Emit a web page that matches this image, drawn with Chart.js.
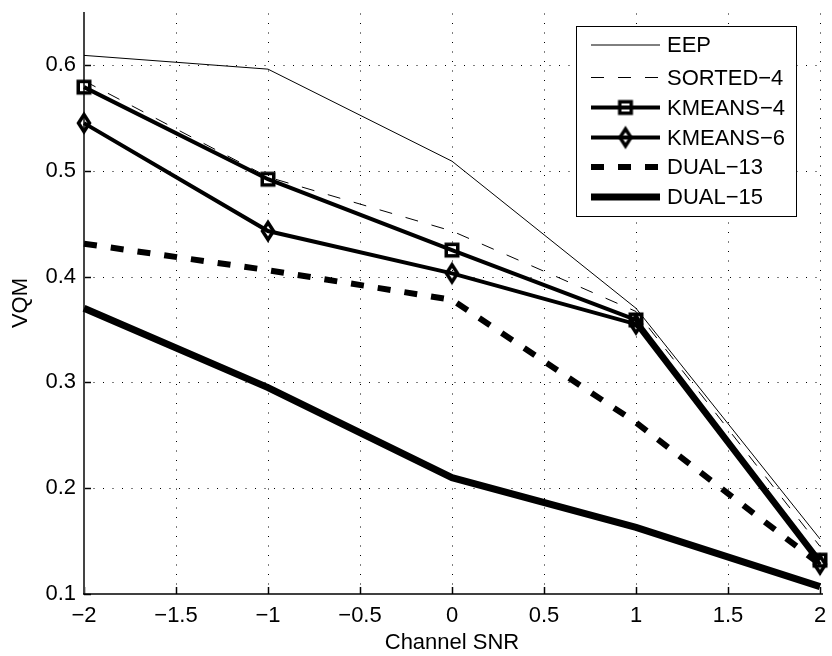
<!DOCTYPE html>
<html>
<head>
<meta charset="utf-8">
<script src="https://cdn.jsdelivr.net/npm/chart.js@4/dist/chart.umd.min.js"></script>
<style>
  html, body { margin: 0; padding: 0; background: #fff; }
  #wrap { width: 832px; height: 656px; }
</style>
</head>
<body>
<div id="wrap"><canvas id="c" width="832" height="656"></canvas></div>
<script>
// Channel SNR values (x) and VQM per scheme (y)
const snr      = [-2, -1, 0, 1, 2];
const eep      = [0.609, 0.596, 0.509, 0.370, 0.152];
const sorted4  = [0.585, 0.494, 0.443, 0.367, 0.145];
const kmeans4  = [0.579, 0.492, 0.425, 0.359, 0.132];
const kmeans6  = [0.545, 0.443, 0.403, 0.355, 0.128];
const dual13   = [0.431, 0.406, 0.378, 0.262, 0.128];
const dual15   = [0.370, 0.295, 0.210, 0.163, 0.107];
const seriesNames = ['EEP', 'SORTED\u22124', 'KMEANS\u22124', 'KMEANS\u22126', 'DUAL\u221213', 'DUAL\u221215'];
const xTickStep = 0.5;
const yTickStep = 0.1;

const FONT = '"Liberation Sans", Arial, Helvetica, sans-serif';

// open square marker
function squareMarker() {
  const c = document.createElement('canvas');
  c.width = 18; c.height = 18;
  const g = c.getContext('2d');
  g.lineWidth = 3.5;
  g.strokeStyle = '#000';
  g.lineJoin = 'miter';
  g.strokeRect(3.25, 3.25, 11.5, 11.5);
  return c;
}
// open diamond marker (taller than wide)
function diamondMarker() {
  const c = document.createElement('canvas');
  c.width = 20; c.height = 28;
  const g = c.getContext('2d');
  g.lineWidth = 3.5;
  g.strokeStyle = '#000';
  g.lineJoin = 'miter';
  g.beginPath();
  g.moveTo(10, 14 - 8.5);
  g.lineTo(10 + 5.5, 14);
  g.lineTo(10, 14 + 8.5);
  g.lineTo(10 - 5.5, 14);
  g.closePath();
  g.stroke();
  return c;
}
const sq = squareMarker();
const dm = diamondMarker();

function pts(ys) { return snr.map((x, i) => ({ x: x, y: ys[i] })); }

function ds(label, ys, width, dash, marker) {
  return {
    label: label,
    data: pts(ys),
    borderColor: '#000',
    backgroundColor: '#000',
    borderWidth: width,
    borderDash: dash,
    borderCapStyle: 'butt',
    borderJoinStyle: 'miter',
    tension: 0,
    fill: false,
    clip: false,
    pointRadius: marker ? 8 : 0,
    pointHoverRadius: marker ? 8 : 0,
    pointStyle: marker || 'circle',
  };
}

const datasets = [
  ds(seriesNames[0], eep, 1, [], null),
  ds(seriesNames[1], sorted4, 1, [13, 14], null),
  ds(seriesNames[2], kmeans4, 4, [], sq),
  ds(seriesNames[3], kmeans6, 4, [], dm),
  ds(seriesNames[4], dual13, 6, [13, 14], null),
  ds(seriesNames[5], dual15, 7, [], null),
];

// dotted grid, axis lines and inward tick marks
const axesPlugin = {
  id: 'matlabAxes',
  beforeDatasetsDraw(chart) {
    const { ctx, chartArea: a, scales: { x, y } } = chart;
    ctx.save();
    ctx.strokeStyle = '#000';
    ctx.lineWidth = 1;
    ctx.setLineDash([1, 8.5]);
    x.ticks.forEach(t => {
      if (t.value <= x.min + 1e-9) return;
      const px = Math.round(x.getPixelForValue(t.value)) + 0.5;
      ctx.beginPath(); ctx.moveTo(px, a.bottom); ctx.lineTo(px, a.top - 6); ctx.stroke();
    });
    y.ticks.forEach(t => {
      if (t.value <= y.min + 1e-9) return;
      const py = Math.round(y.getPixelForValue(t.value)) + 0.5;
      ctx.beginPath(); ctx.moveTo(a.left, py); ctx.lineTo(a.right + 3, py); ctx.stroke();
    });
    ctx.setLineDash([]);
    // inward ticks
    ctx.lineWidth = 1.5;
    x.ticks.forEach(t => {
      const px = Math.round(x.getPixelForValue(t.value)) + 0.5;
      ctx.beginPath(); ctx.moveTo(px, a.bottom); ctx.lineTo(px, a.bottom - 7); ctx.stroke();
    });
    y.ticks.forEach(t => {
      const py = Math.round(y.getPixelForValue(t.value)) + 0.5;
      ctx.beginPath(); ctx.moveTo(a.left, py); ctx.lineTo(a.left + 7, py); ctx.stroke();
    });
    // axis lines
    ctx.strokeStyle = '#444';
    ctx.lineWidth = 2;
    ctx.beginPath(); ctx.moveTo(a.left, a.top); ctx.lineTo(a.left, a.bottom); ctx.stroke();
    ctx.strokeStyle = '#000';
    ctx.lineWidth = 1.5;
    ctx.beginPath(); ctx.moveTo(a.left - 1, a.bottom); ctx.lineTo(a.right + 3, a.bottom); ctx.stroke();
    ctx.restore();
  }
};

// boxed legend in the upper right
const legendPlugin = {
  id: 'boxLegend',
  afterDraw(chart) {
    const { ctx } = chart;
    const bx = 576.5, by = 26.5, bw = 220, bh = 190;
    ctx.save();
    ctx.fillStyle = '#fff';
    ctx.fillRect(bx, by, bw, bh);
    ctx.strokeStyle = '#000';
    ctx.lineWidth = 1;
    ctx.strokeRect(bx, by, bw, bh);
    const rowY = [45, 77.5, 107.5, 137.5, 167, 197];
    const x0 = 591, x1 = 660, tx = 667;
    chart.data.datasets.forEach((d, i) => {
      const yy = rowY[i];
      ctx.strokeStyle = '#000';
      ctx.lineWidth = d.borderWidth;
      ctx.lineCap = 'butt';
      ctx.setLineDash(d.borderDash || []);
      ctx.beginPath(); ctx.moveTo(x0, yy); ctx.lineTo(x1, yy); ctx.stroke();
      ctx.setLineDash([]);
      if (d.pointRadius > 0 && typeof d.pointStyle === 'object') {
        const img = d.pointStyle;
        ctx.drawImage(img, (x0 + x1) / 2 - img.width / 2, yy - img.height / 2);
      }
      ctx.fillStyle = '#000';
      ctx.font = '22px ' + FONT;
      ctx.textAlign = 'left';
      ctx.textBaseline = 'middle';
      ctx.fillText(d.label, tx, yy + 1);
    });
    ctx.restore();
  }
};

function fmt(v) {
  const r = Math.round(v * 100) / 100;
  const s = String(Math.abs(r));
  return (r < 0 ? '\u2212' : '') + s;
}

new Chart(document.getElementById('c'), {
  type: 'line',
  data: { datasets: datasets },
  options: {
    responsive: false,
    animation: false,
    devicePixelRatio: 1,
    layout: { padding: { top: 6, right: 3, left: 0, bottom: 0 } },
    plugins: { legend: { display: false }, tooltip: { enabled: false } },
    events: [],
    scales: {
      x: {
        type: 'linear',
        min: -2, max: 2,
        grid: { display: false, drawTicks: false },
        border: { display: false },
        ticks: {
          stepSize: xTickStep,
          padding: 9,
          color: '#000',
          font: { family: FONT, size: 22 },
          maxRotation: 0,
          autoSkip: false,
          callback: v => fmt(v),
        },
        title: {
          display: true, text: 'Channel SNR', color: '#000',
          font: { family: FONT, size: 22 }, padding: { top: 0, bottom: 0 },
        },
        afterFit(s) { s.height = 62; s.paddingLeft = 0; s.paddingRight = 0; },
      },
      y: {
        type: 'linear',
        min: 0.1, max: 0.65,
        grid: { display: false, drawTicks: false },
        border: { display: false },
        ticks: {
          stepSize: yTickStep,
          includeBounds: false,
          padding: 8,
          color: '#000',
          font: { family: FONT, size: 22 },
          autoSkip: false,
          callback: v => (Math.abs(v * 10 - Math.round(v * 10)) < 1e-6 ? v.toFixed(1) : ''),
        },
        title: {
          display: true, text: 'VQM', color: '#000',
          font: { family: FONT, size: 22 }, padding: { top: 8, bottom: 0 },
        },
        afterFit(s) { s.width = 84; s.paddingTop = 0; s.paddingBottom = 0; },
      },
    },
  },
  plugins: [axesPlugin, legendPlugin],
});
</script>
</body>
</html>
